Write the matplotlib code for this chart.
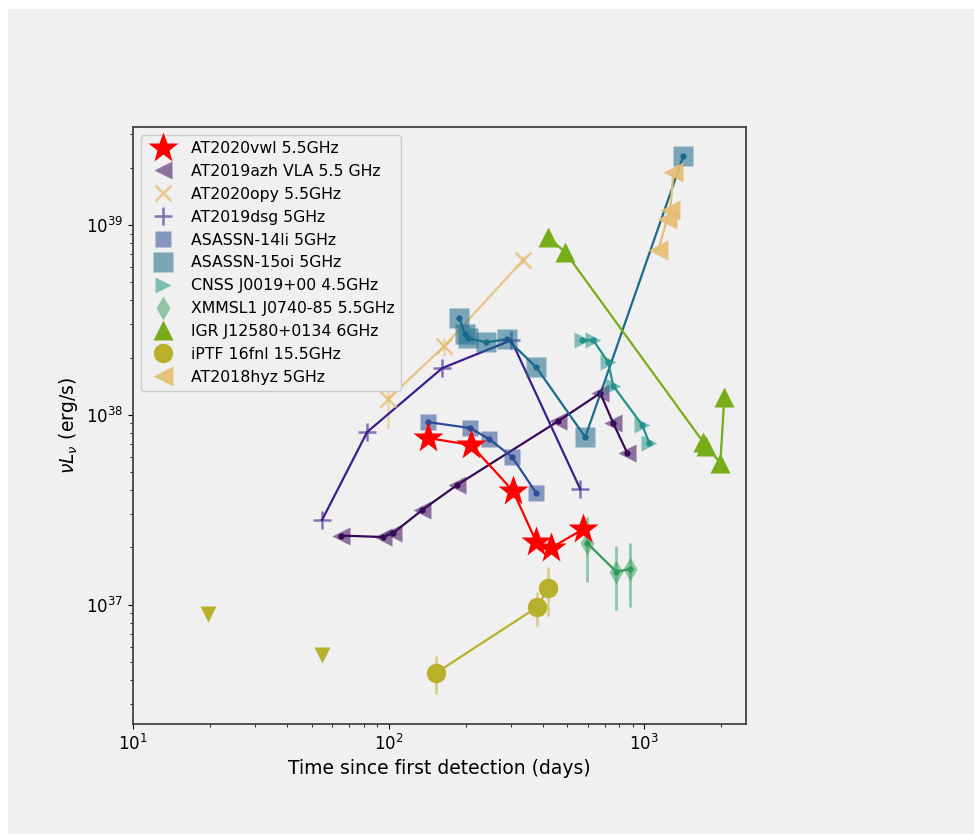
import matplotlib
matplotlib.use("Agg")
import matplotlib.pyplot as plt
from matplotlib.patches import Rectangle

# radio light curves, time since first detection (days) vs nuL_nu (erg/s)
vwl_t = [142.7, 210.3, 307, 378, 432.5, 577]
vwl_L = [7.54e37, 6.93e37, 3.96e37, 2.14e37, 1.99e37, 2.50e37]

azh_t = [65.2, 95.1, 104.1, 135.3, 185.4, 460.7, 672.6, 756, 858]
azh_L = [2.31e37, 2.27e37, 2.38e37, 3.15e37, 4.27e37, 9.26e37, 1.30e38, 9.04e37, 6.29e37]

opy_t = [99.5, 165, 336]
opy_L = [1.21e38, 2.30e38, 6.52e38]
opy_err = [0.37e38, 0.25e38, 0.3e38]

dsg_t = [54.9, 82.4, 162, 301.8, 561.7]
dsg_L = [2.79e37, 8.11e37, 1.76e38, 2.47e38, 4.06e37]

li14_t = [142.7, 208.4, 247.4, 304.3, 378]
li14_L = [9.15e37, 8.51e37, 7.45e37, 5.99e37, 3.87e37]

oi15_t = [188.8, 199.3, 204.7, 240.8, 290.9, 378, 587.5, 1421]
oi15_L = [3.23e38, 2.66e38, 2.53e38, 2.41e38, 2.50e38, 1.78e38, 7.63e37, 2.30e39]

cnss_t = [572, 631.6, 723, 756, 982, 1046]
cnss_L = [2.47e38, 2.47e38, 1.89e38, 1.42e38, 8.83e37, 7.10e37]

xmm_t = [598, 777, 881.6]
xmm_L = [2.11e37, 1.49e37, 1.54e37]
xmm_err = [0.8e37, 0.55e37, 0.57e37]

igr_t = [421, 490.8, 1701, 1748, 1984, 2057]
igr_L = [8.61e38, 7.18e38, 7.18e37, 6.84e37, 5.57e37, 1.24e38]

fnl_t = [153.4, 381, 421]
fnl_L = [4.37e36, 0.97e37, 1.22e37]
fnl_err = [1.0e36, 0.2e37, 0.35e37]
fnl_lim_t = [19.7, 54.9]
fnl_lim_L = [8.94e36, 5.43e36]

hyz_t = [1134, 1230, 1264, 1299]
hyz_L = [7.36e38, 1.08e39, 1.195e39, 1.89e39]

bg = "#f0f0f0"
plt.rcParams["font.size"] = 12

fig = plt.figure(figsize=(9.74, 8.34), dpi=100, facecolor="white")
fig.patches.append(Rectangle((8 / 974, 0), 1, 825 / 834, transform=fig.transFigure,
                             facecolor=bg, edgecolor="none", zorder=-10))
ax = fig.add_axes([133 / 974, 1 - 724 / 834, (746 - 133) / 974, (724 - 127) / 834])
ax.set_facecolor(bg)


def curve(t, L, color, marker, ms, label, alpha=0.6, err=None, dots=True, lalpha=1.0, z=2):
    if err is not None:
        ax.errorbar(t, L, yerr=err, fmt="none", ecolor=color, alpha=0.5, elinewidth=2, zorder=z)
    ax.plot(t, L, "-", color=color, lw=1.6, alpha=lalpha,
            marker="." if dots else None, ms=7, zorder=z)
    if marker in ("x", "+"):
        ax.plot(t, L, linestyle="none", marker=marker, ms=ms, color=color,
                alpha=alpha, label=label, zorder=z + 0.5, mew=1.8)
    else:
        ax.plot(t, L, linestyle="none", marker=marker, ms=ms, color=color,
                alpha=alpha, label=label, zorder=z + 0.5, mec="none")


curve(vwl_t, vwl_L, "#ff0000", "*", 23, "AT2020vwl 5.5GHz", alpha=1, dots=False, z=6)
curve(azh_t, azh_L, "#380a56", "<", 13, "AT2019azh VLA 5.5 GHz", alpha=0.55)
curve(opy_t, opy_L, "#e6bd72", "x", 12, "AT2020opy 5.5GHz", alpha=0.8, err=opy_err,
      dots=False, lalpha=0.85)
curve(dsg_t, dsg_L, "#3b1d8e", "+", 13, "AT2019dsg 5GHz", alpha=0.6, dots=False)
curve(li14_t, li14_L, "#2d4c98", "s", 12, "ASASSN-14li 5GHz", alpha=0.55)
curve(oi15_t, oi15_L, "#1a6a8b", "s", 15, "ASASSN-15oi 5GHz", alpha=0.55)
curve(cnss_t, cnss_L, "#23938a", ">", 12, "CNSS J0019+00 4.5GHz", alpha=0.55)
curve(xmm_t, xmm_L, "#2f9c5a", "d", 12, "XMMSL1 J0740-85 5.5GHz", alpha=0.5, err=xmm_err)
curve(igr_t, igr_L, "#77ad19", "^", 14, "IGR J12580+0134 6GHz", alpha=1, dots=False)
curve(fnl_t, fnl_L, "#b8b02a", "o", 14, "iPTF 16fnl 15.5GHz", alpha=1, err=fnl_err, dots=False)
ax.plot(fnl_lim_t, fnl_lim_L, linestyle="none", marker="v", ms=12, color="#b8b02a", mec="none")
curve(hyz_t, hyz_L, "#e6bd72", "<", 14, "AT2018hyz 5GHz", alpha=0.9, dots=False)

ax.set_xscale("log")
ax.set_yscale("log")
ax.set_xlim(10, 2500)
ax.set_ylim(2.35e36, 3.28e39)
ax.set_xlabel("Time since first detection (days)", fontsize=13.5)
ax.set_ylabel(r"$\nu L_\nu$ (erg/s)", fontsize=13.5)
for s in ax.spines.values():
    s.set_color("#444444")
    s.set_linewidth(1.3)

leg = ax.legend(loc="upper left", fontsize=11.3, facecolor=bg, edgecolor="#cccccc",
                framealpha=1, borderaxespad=0.5)

fig.savefig("out.png", dpi=100, facecolor="white")
